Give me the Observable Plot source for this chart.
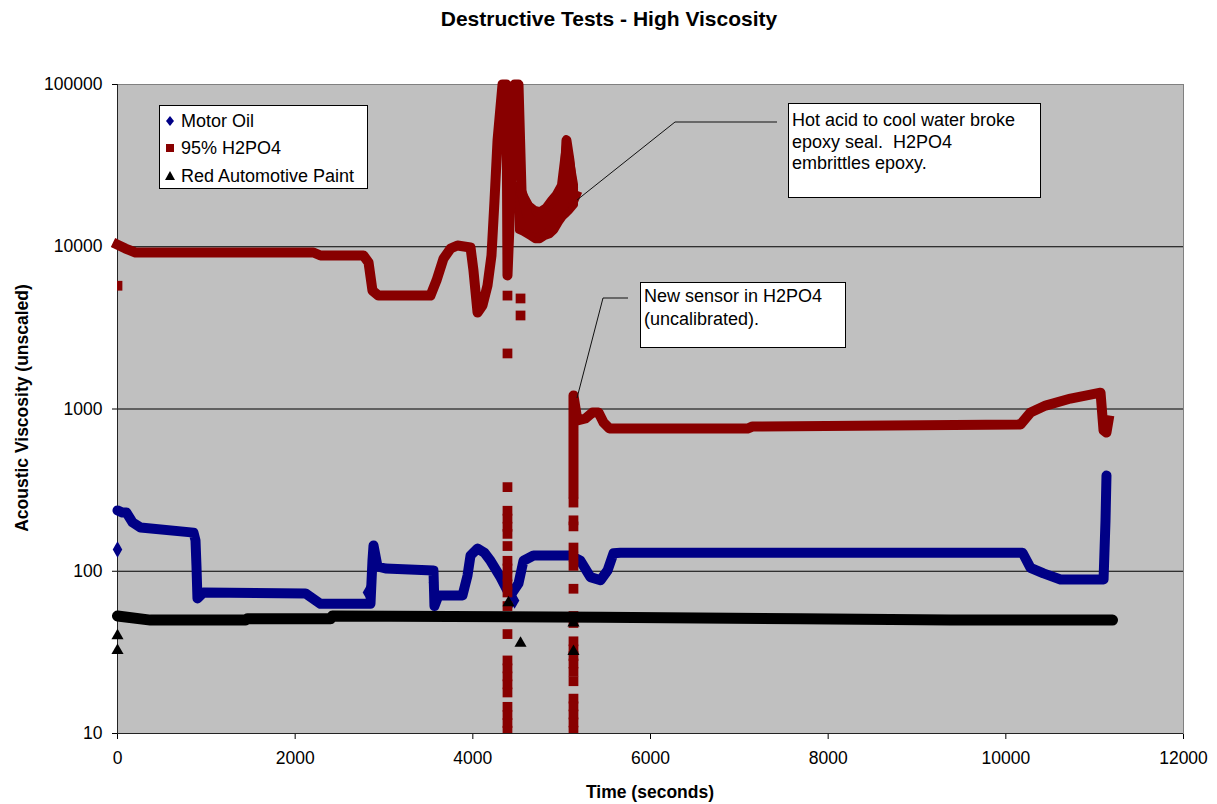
<!DOCTYPE html>
<html><head><meta charset="utf-8">
<script src="https://cdn.jsdelivr.net/npm/d3@7"></script>
<script src="https://cdn.jsdelivr.net/npm/@observablehq/plot@0.6"></script>
<style>
body{margin:0;background:#fff;font-family:"Liberation Sans",Arial,sans-serif;}
#wrap{position:relative;width:1217px;height:804px;}
#overlay{position:absolute;left:0;top:0;pointer-events:none;}
</style></head><body>
<div id="wrap"><div id="chart"></div>
<svg id="overlay" width="1217" height="804" font-family="Liberation Sans, Arial, sans-serif"></svg>
</div>
<script>
// ---- data ----
const xTicks = [0, 2000, 4000, 6000, 8000, 10000, 12000];
const yTicks = [10, 100, 1000, 10000, 100000];
const gridValues = [100, 1000, 10000];
const seriesNames = ["Motor Oil", "95% H2PO4", "Red Automotive Paint"];

// Motor Oil trace
const oilTime = [0,56,101,169,259,856,878,889,900,968,2116,2285,2848,2870,2882,2927,3017,3557,3568,3613,3884,3940,3974,4053,4131,4199,4311,4390,4446,4514,4570,4683,5099,5212,5324,5437,5516,5583,5662,10188,10278,10424,10615,11100,11122,11133];
const oilValue = [237,230,230,200,186,173,155,108,68,74,73,63,63,116,144,107,104,101,61,71,71,94,125,138,130,116,92,76,74,84,116,125,125,116,92,88,101,129,130,130,105,97,89,89,205,389];
// Motor Oil isolated points
const oilDotTime = [0, 2814, 3557, 4424, 4470];
const oilDotValue = [136, 74, 85, 64, 66];

// 95% H2PO4 — first sensor
const acidATime = [0,90,203,2206,2285,2769,2826,2870,2938,3523,3591,3670,3749,3827,3974,4007,4053,4109,4165,4210,4244,4278,4334,4379,4390,4424,4469,4514,4548,4615,4705,4818,4931,5021,5054,5088,5133,5156];
const acidAValue = [10300,9750,9220,9220,8830,8830,8000,5370,5000,5000,6200,8460,9750,10180,9900,7140,3930,4350,5770,8830,19300,45200,100000,100000,6650,19300,100000,100000,22200,15600,13000,14100,16300,18000,45200,34000,19300,20700];
// spread of the dense H2PO4 points after the spike (upper / lower edges)
const acidBandTime = [4514,4559,4649,4705,4762,4818,4874,4931,4987,5021,5054,5099,5156];
const acidBandHigh = [24000,22200,18000,17000,16700,17500,19300,21000,23900,34000,46500,36500,24000];
const acidBandLow  = [12500,12200,11400,10900,10900,11400,11700,12500,14100,15000,15600,16500,18000];
// 95% H2PO4 — new sensor
const acidBTime = [5133,5133,5178,5268,5347,5415,5471,5538,7092,7148,10165,10278,10447,10728,11066,11100,11133,11156];
const acidBValue = [301,1210,850,874,952,952,826,758,758,780,803,952,1050,1160,1260,737,716,850];
// 95% H2PO4 isolated points
const acidDotTime = [0,4390,4390,4537,4537,
  4390,4390,4390,4390,4390,4390,4390,4390,4390,4390,4390,4390,4390,4390,4390,4390,4390,4390,4390,4390,4390,4390,
  5133,5133,5133,5133,5133,5133,5133,5133,5133,5133,5133,5133,5133,5133,5133,5133,5133,5133,5133,5133];
const acidDotValue = [5750,5000,2200,4800,3770,
  330,236,211,188,170,143,116,104,93,83,74,61,41,28.2,25.2,22.5,20.1,17.9,14.6,13.0,11.6,10.4,
  265,206,189,140,123,108,78,53,48,37,33,30,27,24,21,16.4,14.7,13.1,11.7,10.4];

// Red Automotive Paint trace
const paintTime = [0,371,1441,1463,2398,2420,5437,7689,9377,11201];
const paintValue = [53,50,50,51,51,53,52,51,50,50];
const paintDotTime = [0, 0, 4401, 4537, 5133, 5133];
const paintDotValue = [40, 32.5, 64, 36, 32, 48];

const BLUE = "#000086", RED = "#880000", BLACK = "#000000";
const rows = (ts, vs) => ts.map((t, i) => ({t, v: vs[i]}));
const bandRows = acidBandTime.map((t, i) => ({t, hi: acidBandHigh[i], lo: acidBandLow[i]}));

const chart = Plot.plot({
  width: 1217, height: 804,
  marginLeft: 117, marginRight: 34, marginTop: 84, marginBottom: 71,
  style: {fontFamily: "'Liberation Sans', Arial, sans-serif", fontSize: "17.5px", color: "black", background: "white"},
  x: {domain: [0, 12000], ticks: xTicks, tickFormat: d3.format("d"), tickSize: 6, tickPadding: 12, label: null},
  y: {type: "log", domain: [10, 100000], ticks: yTicks, tickFormat: d3.format("d"), tickSize: 5, tickPadding: 10, label: null},
  marks: [
    Plot.frame({fill: "#c0c0c0", stroke: "#808080"}),
    Plot.ruleY(gridValues, {stroke: "black", strokeWidth: 1}),
    Plot.ruleX([0], {stroke: "#222"}),
    Plot.ruleY([10], {stroke: "#222"}),
    Plot.line(rows(oilTime, oilValue), {x: "t", y: "v", stroke: BLUE, strokeWidth: 10, strokeLinejoin: "round", strokeLinecap: "round"}),
    Plot.dot(rows(oilDotTime, oilDotValue), {x: "t", y: "v", symbol: "diamond", fill: BLUE, r: 5}),
    Plot.areaY(bandRows, {x: "t", y1: "lo", y2: "hi", fill: RED, stroke: RED, strokeWidth: 6, strokeLinejoin: "round"}),
    Plot.line(rows(acidATime, acidAValue), {x: "t", y: "v", stroke: RED, strokeWidth: 10, strokeLinejoin: "round", strokeLinecap: "square"}),
    Plot.line(rows(acidBTime, acidBValue), {x: "t", y: "v", stroke: RED, strokeWidth: 10, strokeLinejoin: "round", strokeLinecap: "square"}),
    Plot.dot(rows(acidDotTime, acidDotValue), {x: "t", y: "v", symbol: "square", fill: RED, r: 5.5, clip: true}),
    Plot.line(rows(paintTime, paintValue), {x: "t", y: "v", stroke: BLACK, strokeWidth: 11, strokeLinejoin: "round", strokeLinecap: "round"}),
    Plot.dot(rows(paintDotTime, paintDotValue), {x: "t", y: "v", symbol: "triangle", fill: BLACK, r: 4.5})
  ]
});
document.getElementById("chart").appendChild(chart);

// ---- overlay: title, axis titles, legend, annotations ----
const ov = d3.select("#overlay");
ov.append("text").attr("x", 609).attr("y", 18).attr("text-anchor", "middle").attr("dominant-baseline", "central")
  .attr("font-weight", "bold").attr("font-size", 21).text("Destructive Tests - High Viscosity");
ov.append("text").attr("x", 650).attr("y", 792).attr("text-anchor", "middle").attr("dominant-baseline", "central")
  .attr("font-weight", "bold").attr("font-size", 17.5).text("Time (seconds)");
ov.append("text").attr("transform", "translate(22,408) rotate(-90)").attr("text-anchor", "middle").attr("dominant-baseline", "central")
  .attr("font-weight", "bold").attr("font-size", 17.5).text("Acoustic Viscosity (unscaled)");

// legend
const lg = ov.append("g");
lg.append("rect").attr("x", 159.5).attr("y", 105.5).attr("width", 208).attr("height", 83).attr("fill", "white").attr("stroke", "black");
const ly = [121, 148, 176];
lg.append("path").attr("d", `M170,${ly[0]-5}L174,${ly[0]}L170,${ly[0]+5}L166,${ly[0]}Z`).attr("fill", BLUE);
lg.append("rect").attr("x", 166).attr("y", ly[1]-4).attr("width", 8).attr("height", 8).attr("fill", RED);
lg.append("path").attr("d", `M170,${ly[2]-5}L175,${ly[2]+4}L165,${ly[2]+4}Z`).attr("fill", BLACK);
seriesNames.forEach((n, i) => lg.append("text").attr("x", 181).attr("y", ly[i]).attr("dominant-baseline", "central").attr("font-size", 18).text(n));

// annotation 1
ov.append("polyline").attr("points", "577,200 675,122 777,122").attr("fill", "none").attr("stroke", "#111").attr("stroke-width", 1);
ov.append("rect").attr("x", 788.5).attr("y", 103.5).attr("width", 252).attr("height", 94).attr("fill", "white").attr("stroke", "black");
["Hot acid to cool water broke", "epoxy seal.  H2PO4", "embrittles epoxy."].forEach((s, i) =>
  ov.append("text").attr("x", 792).attr("y", 120 + i * 21.5).attr("dominant-baseline", "central").attr("font-size", 18).style("white-space", "pre").text(s));

// annotation 2
ov.append("polyline").attr("points", "577,398 603,298 628,298").attr("fill", "none").attr("stroke", "#111").attr("stroke-width", 1);
ov.append("rect").attr("x", 640.5).attr("y", 282.5).attr("width", 205).attr("height", 65).attr("fill", "white").attr("stroke", "black");
["New sensor in H2PO4", "(uncalibrated)."].forEach((s, i) =>
  ov.append("text").attr("x", 644).attr("y", 296 + i * 23).attr("dominant-baseline", "central").attr("font-size", 18).text(s));
</script>
</body></html>
